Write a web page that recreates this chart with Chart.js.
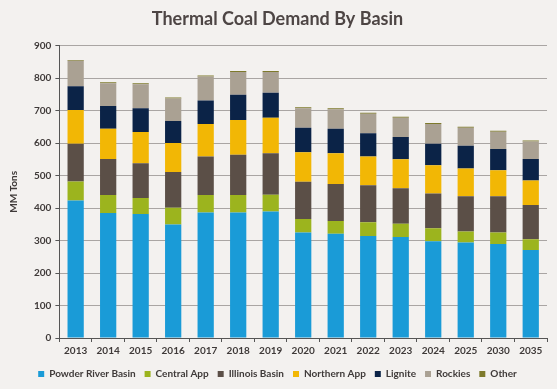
<!DOCTYPE html>
<html>
<head>
<meta charset="utf-8">
<script src="https://cdn.jsdelivr.net/npm/chart.js@4"></script>
<style>
  html, body { margin: 0; padding: 0; background: #f3f1ef; }
  #wrap { width: 557px; height: 389px; }
</style>
</head>
<body>
<div id="wrap"><canvas id="graphic"></canvas></div>
<script>
// datos (MM Tons)
const years = ["2013","2014","2015","2016","2017","2018","2019","2020","2021","2022","2023","2024","2025","2030","2035"];
const powderRiver = [423, 385, 382, 349, 386, 386, 389, 325, 321, 314, 311, 298, 294, 289, 271];
const centralApp  = [ 59,  55,  49,  52,  54,  54,  52,  41,  39,  42,  41,  40,  34,  36,  33];
const illinois    = [116, 111, 107, 110, 119, 124, 128, 115, 114, 114, 109, 107, 108, 111, 105];
const northernApp = [104,  93,  96,  89, 100, 107, 109,  91,  95,  89,  89,  87,  86,  80,  76];
const lignite     = [ 73,  70,  73,  68,  72,  78,  77,  75,  75,  71,  69,  66,  70,  66,  66];
const rockies     = [ 78,  70,  74,  69,  74,  70,  64,  60,  60,  60,  59,  61,  55,  53,  54];
const other       = [  3,   3,   3,   3,   3,   3,   3,   3,   3,   3,   3,   3,   3,   3,   3];

const yTicks = [0, 100, 200, 300, 400, 500, 600, 700, 800, 900];

const textColor = "#3f3a39";
const fontName = "Lato, 'Open Sans', sans-serif";

// fondo gris claro
const fondo = {
    id: "fondo",
    beforeDraw(chart) {
        const ctx = chart.ctx;
        ctx.save();
        ctx.fillStyle = "#f3f1ef";
        ctx.fillRect(0, 0, chart.width, chart.height);
        ctx.restore();
    }
};

function serie(label, data, color) {
    return {
        label: label,
        data: data,
        backgroundColor: color,
        borderWidth: 0,
        barPercentage: 0.5,
        categoryPercentage: 1.0
    };
}

const ctx = document.getElementById("graphic").getContext("2d");

new Chart(ctx, {
    type: "bar",
    data: {
        labels: years,
        datasets: [
            serie("Powder River Basin", powderRiver, "#1a9bd7"),
            serie("Central App", centralApp, "#9cb41e"),
            serie("Illinois Basin", illinois, "#5b4f47"),
            serie("Northern App", northernApp, "#f2b705"),
            serie("Lignite", lignite, "#0b2347"),
            serie("Rockies", rockies, "#aaa193"),
            serie("Other", other, "#7e7a2c")
        ]
    },
    options: {
        responsive: true,
        maintainAspectRatio: false,
        animation: false,
        layout: { padding: { left: 8, right: 10, top: 0, bottom: 0 } },
        plugins: {
            title: {
                display: true,
                text: "Thermal Coal Demand By Basin",
                color: "#4d4544",
                font: { family: fontName, size: 18, weight: "bold" },
                padding: { top: 8, bottom: 16 }
            },
            legend: {
                position: "bottom",
                labels: {
                    color: textColor,
                    boxWidth: 6,
                    boxHeight: 6,
                    padding: 9,
                    font: { family: fontName, size: 10, weight: "bold" }
                }
            },
            tooltip: { enabled: false }
        },
        scales: {
            x: {
                stacked: true,
                grid: {
                    display: true,
                    drawOnChartArea: false,
                    color: "#555",
                    tickLength: 4,
                    offset: true
                },
                border: { color: "#555", width: 1 },
                ticks: {
                    color: textColor,
                    maxRotation: 0,
                    autoSkip: false,
                    padding: 3,
                    font: { family: fontName, size: 10, weight: "bold" }
                }
            },
            y: {
                stacked: true,
                min: 0,
                max: 900,
                afterBuildTicks(axis) {
                    axis.ticks = yTicks.map(v => ({ value: v }));
                },
                grid: {
                    color: "#a9a5a3",
                    tickColor: "#555",
                    tickLength: 4
                },
                border: { color: "#555", width: 1 },
                title: {
                    display: true,
                    text: "MM Tons",
                    color: textColor,
                    font: { family: fontName, size: 10, weight: "bold" },
                    padding: { top: 0, bottom: 10 }
                },
                ticks: {
                    color: textColor,
                    padding: 4,
                    font: { family: fontName, size: 10, weight: "bold" }
                }
            }
        }
    },
    plugins: [fondo]
});
</script>
</body>
</html>
